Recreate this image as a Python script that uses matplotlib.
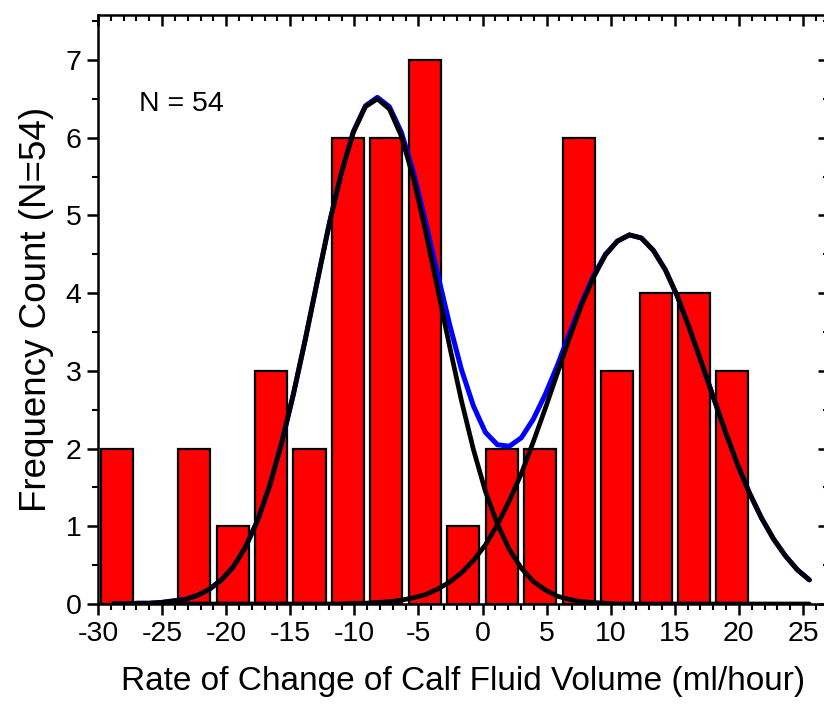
import numpy as np
import matplotlib
matplotlib.use("Agg")
import matplotlib.pyplot as plt
from matplotlib.ticker import MultipleLocator

plt.rcParams['font.family'] = ['Liberation Sans', 'DejaVu Sans']

# Histogram data (bin centres, counts)
bin_centers = [-28.5, -25.5, -22.5, -19.5, -16.5, -13.5, -10.5, -7.5, -4.5,
               -1.5, 1.5, 4.5, 7.5, 10.5, 13.5, 16.5, 19.5]
counts = [2, 0, 2, 1, 3, 2, 6, 6, 7, 1, 2, 2, 6, 3, 4, 4, 3]

# Fitted curves sampled from -28.8 to 25.5 (59 points)
curve_x = np.linspace(-28.8, 25.5, 59)
peak1 = [0.00, 0.00, 0.01, 0.01, 0.02, 0.04, 0.06, 0.11, 0.19, 0.31,
         0.48, 0.73, 1.07, 1.51, 2.06, 2.70, 3.41, 4.16, 4.90, 5.55,
         6.07, 6.40, 6.50, 6.37, 6.02, 5.48, 4.81, 4.07, 3.33, 2.62,
         1.99, 1.45, 1.03, 0.70, 0.46, 0.29, 0.18, 0.10, 0.06, 0.03,
         0.02, 0.01, 0.00, 0.00, 0.00, 0.00, 0.00, 0.00, 0.00, 0.00,
         0.00, 0.00, 0.00, 0.00, 0.00, 0.00, 0.00, 0.00, 0.00]
peak2 = [0.00, 0.00, 0.00, 0.00, 0.00, 0.00, 0.00, 0.00, 0.00, 0.00,
         0.00, 0.00, 0.00, 0.00, 0.00, 0.00, 0.00, 0.00, 0.00, 0.00,
         0.01, 0.01, 0.02, 0.03, 0.05, 0.08, 0.12, 0.19, 0.28, 0.40,
         0.56, 0.76, 1.02, 1.33, 1.68, 2.09, 2.52, 2.97, 3.42, 3.84,
         4.20, 4.49, 4.67, 4.75, 4.71, 4.55, 4.30, 3.96, 3.55, 3.11,
         2.66, 2.22, 1.80, 1.43, 1.11, 0.84, 0.62, 0.44, 0.31]
cumulative = [0.00, 0.00, 0.01, 0.01, 0.02, 0.04, 0.06, 0.11, 0.19, 0.31,
              0.48, 0.73, 1.07, 1.51, 2.06, 2.70, 3.41, 4.16, 4.90, 5.55,
              6.08, 6.41, 6.52, 6.40, 6.07, 5.56, 4.93, 4.26, 3.61, 3.02,
              2.55, 2.21, 2.05, 2.03, 2.14, 2.38, 2.70, 3.07, 3.48, 3.87,
              4.22, 4.50, 4.67, 4.75, 4.71, 4.55, 4.30, 3.96, 3.55, 3.11,
              2.66, 2.22, 1.80, 1.43, 1.11, 0.84, 0.62, 0.44, 0.31]

x_ticks = [-30, -25, -20, -15, -10, -5, 0, 5, 10, 15, 20, 25]
y_ticks = [0, 1, 2, 3, 4, 5, 6, 7]

fig = plt.figure(figsize=(8.24, 7.05), dpi=100)
ax = fig.add_axes([98/824, 101/705, (828.6-98)/824, 589/705])

ax.bar(bin_centers, counts, width=2.5, color='#ff0000', edgecolor='black',
       linewidth=1.6, zorder=2)
ax.plot(curve_x, cumulative, color='#0000ff', lw=3.6, zorder=3,
        solid_joinstyle='round', solid_capstyle='round')
ax.plot(curve_x, peak1, color='black', lw=3.4, zorder=4,
        solid_joinstyle='round', solid_capstyle='round')
ax.plot(curve_x, peak2, color='black', lw=3.4, zorder=4,
        solid_joinstyle='round', solid_capstyle='round')

ax.set_xlim(-30, 27)
ax.set_ylim(0, 7.58)
ax.set_xticks(x_ticks)
ax.set_xticklabels([str(v) for v in x_ticks])
ax.set_yticks(y_ticks)
ax.xaxis.set_minor_locator(MultipleLocator(1))
ax.yaxis.set_minor_locator(MultipleLocator(0.5))

ax.tick_params(axis='both', which='major', labelsize=20.5, width=1.8, length=8,
               top=True, right=True, pad=4)
ax.tick_params(axis='both', which='minor', width=1.5, length=4,
               top=True, right=True)
ax.tick_params(axis='x', which='both', direction='out')
ax.tick_params(axis='y', which='both', direction='out')
# top and right ticks inward
for t in ax.xaxis.get_major_ticks() + ax.xaxis.get_minor_ticks():
    t.tick2line.set_marker(3)  # TICKDOWN
for t in ax.yaxis.get_major_ticks() + ax.yaxis.get_minor_ticks():
    t.tick2line.set_marker(0)  # TICKLEFT

for s in ax.spines.values():
    s.set_linewidth(1.8)

ax.text(-26.8, 6.43, 'N = 54', fontsize=20.5, va='center', ha='left')
ax.set_xlabel('Rate of Change of Calf Fluid Volume (ml/hour)', fontsize=24,
              labelpad=14)
ax.set_ylabel('Frequency Count (N=54)', fontsize=26.5, labelpad=8)

fig.savefig('out.png', dpi=100)
